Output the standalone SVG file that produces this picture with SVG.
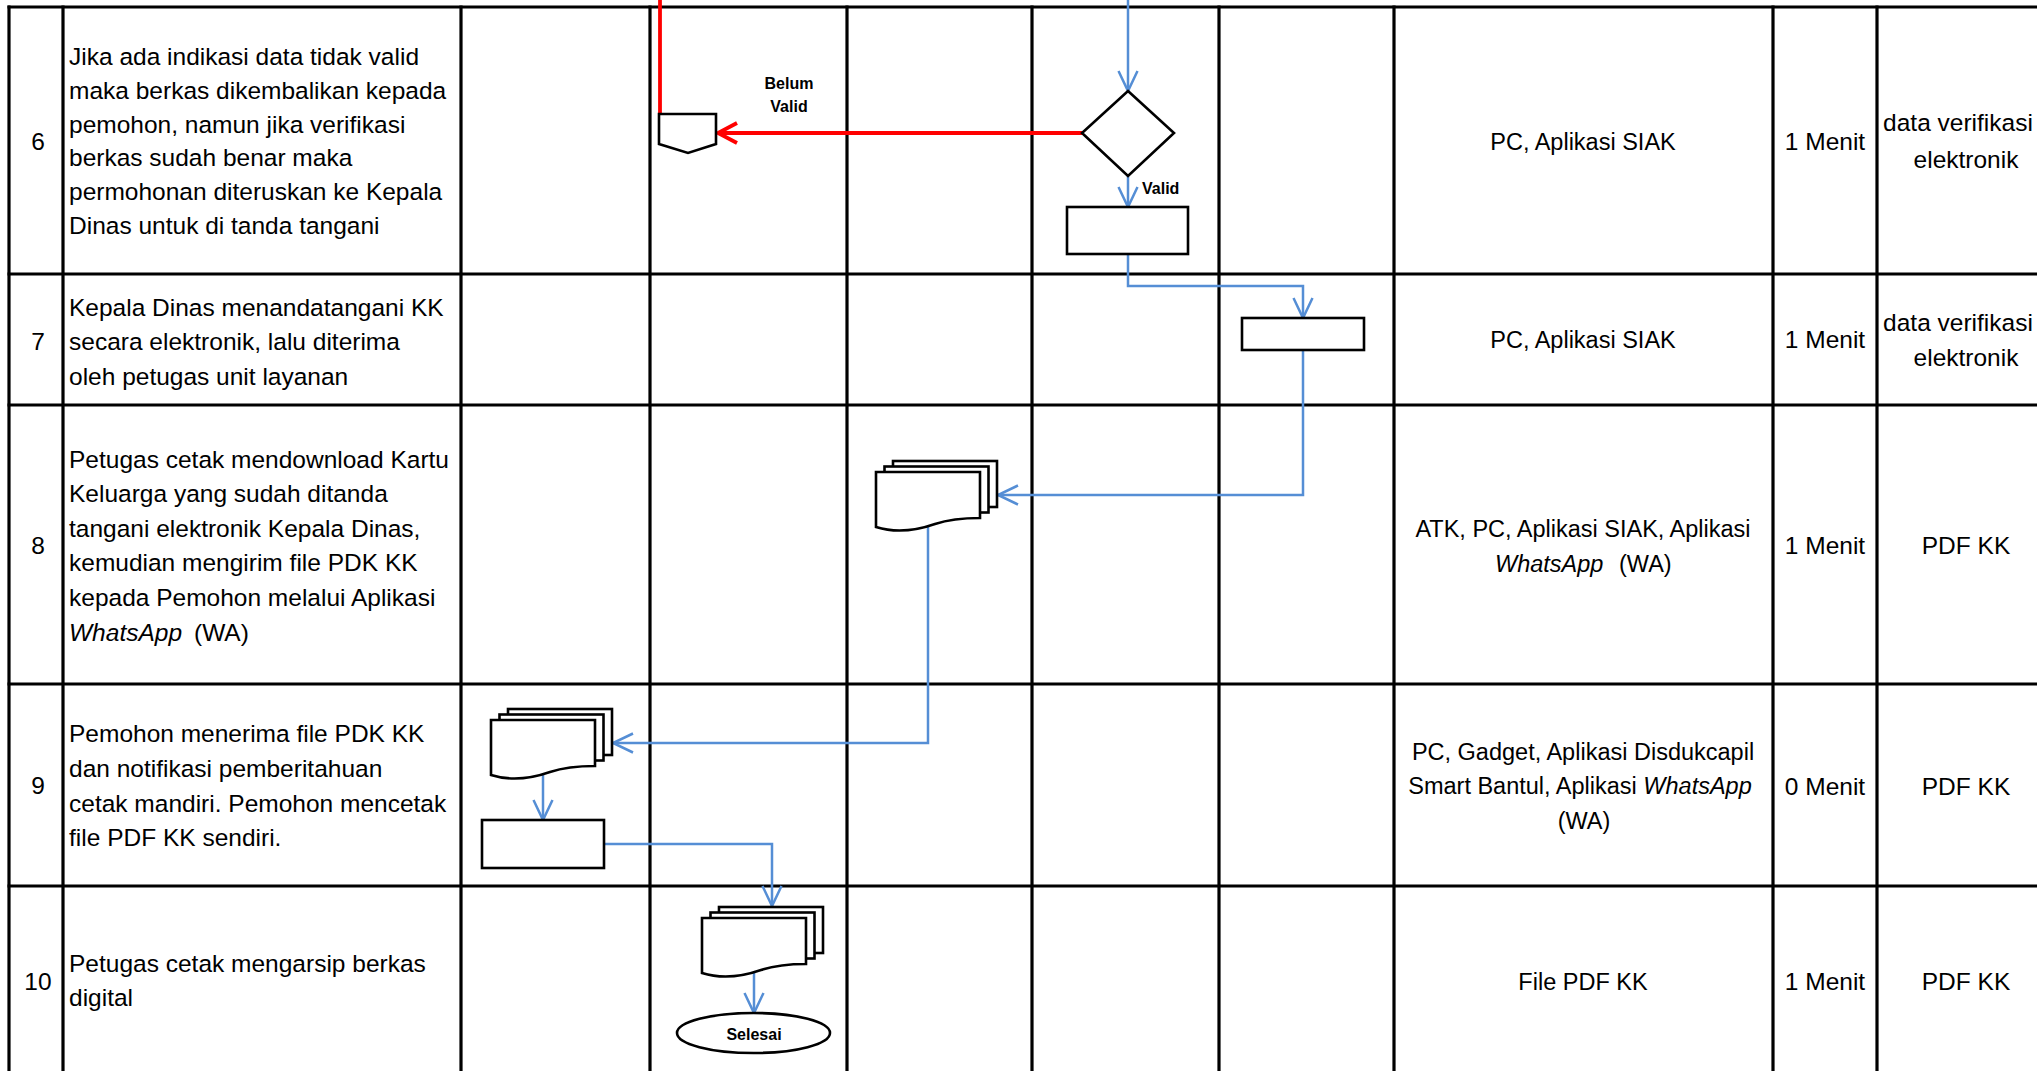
<svg xmlns="http://www.w3.org/2000/svg" width="2037" height="1071" viewBox="0 0 2037 1071">
<defs>
<style>
.grid{stroke:#000;stroke-width:3.2;fill:none}
.shape{stroke:#000;stroke-width:2.6;fill:#fff}
.t{font-family:"Liberation Sans",Arial,sans-serif;font-size:24.5px;fill:#000}
.e{font-size:23.5px}
.c{text-anchor:middle}
.i{font-style:italic}
.b{font-family:"Liberation Sans",Arial,sans-serif;font-size:16px;font-weight:bold;fill:#000}
.flow{stroke:#558ED5;stroke-width:2.5;fill:none}
.no{stroke:#FF0000;stroke-width:3.8;fill:none}
</style>
<marker id="ab" markerUnits="userSpaceOnUse" markerWidth="26" markerHeight="26" viewBox="-23 -13 26 26" refX="0" refY="0" orient="auto">
<path d="M-20,-9.5 L0,0 L-20,9.5" fill="none" stroke="#558ED5" stroke-width="2.5"/>
</marker>
<marker id="ar" markerUnits="userSpaceOnUse" markerWidth="28" markerHeight="28" viewBox="-24 -14 28 28" refX="0" refY="0" orient="auto">
<path d="M-19,-10 L0,0 L-19,10" fill="none" stroke="#FF0000" stroke-width="3.8"/>
</marker>
<g id="mdoc">
<rect x="17" y="-11" width="104" height="46"/>
<rect x="8.5" y="-5.5" width="104" height="46"/>
<path d="M0,0 H104 V46 C89,46 74,47 59,52 C39,59 19,61 0,55 Z"/>
</g>
</defs>
<rect width="2037" height="1071" fill="#fff"/>

<g id="table" class="grid">
<line x1="7.5" y1="7" x2="2037" y2="7"/>
<line x1="7.5" y1="274" x2="2037" y2="274"/>
<line x1="7.5" y1="405" x2="2037" y2="405"/>
<line x1="7.5" y1="684" x2="2037" y2="684"/>
<line x1="7.5" y1="886" x2="2037" y2="886"/>
<line x1="9" y1="5.5" x2="9" y2="1071"/>
<line x1="63" y1="5.5" x2="63" y2="1071"/>
<line x1="461" y1="5.5" x2="461" y2="1071"/>
<line x1="650" y1="5.5" x2="650" y2="1071"/>
<line x1="847" y1="5.5" x2="847" y2="1071"/>
<line x1="1032" y1="5.5" x2="1032" y2="1071"/>
<line x1="1219" y1="5.5" x2="1219" y2="1071"/>
<line x1="1394" y1="5.5" x2="1394" y2="1071"/>
<line x1="1773" y1="5.5" x2="1773" y2="1071"/>
<line x1="1877" y1="5.5" x2="1877" y2="1071"/>
</g>

<g id="row6-text" class="t">
<text x="38" y="150" class="c">6</text>
<text x="69" y="65">Jika ada indikasi data tidak valid</text>
<text x="69" y="99">maka berkas dikembalikan kepada</text>
<text x="69" y="133">pemohon, namun jika verifikasi</text>
<text x="69" y="166">berkas sudah benar maka</text>
<text x="69" y="200">permohonan diteruskan ke Kepala</text>
<text x="69" y="234">Dinas untuk di tanda tangani</text>
<text x="1583" y="150" class="c e">PC, Aplikasi SIAK</text>
<text x="1825" y="150" class="c">1 Menit</text>
<text x="1958" y="131" class="c">data verifikasi</text>
<text x="1966" y="168" class="c">elektronik</text>
</g>
<g id="row7-text" class="t">
<text x="38" y="350" class="c">7</text>
<text x="69" y="316">Kepala Dinas menandatangani KK</text>
<text x="69" y="350">secara elektronik, lalu diterima</text>
<text x="69" y="385">oleh petugas unit layanan</text>
<text x="1583" y="348" class="c e">PC, Aplikasi SIAK</text>
<text x="1825" y="348" class="c">1 Menit</text>
<text x="1958" y="331" class="c">data verifikasi</text>
<text x="1966" y="366" class="c">elektronik</text>
</g>
<g id="row8-text" class="t">
<text x="38" y="554" class="c">8</text>
<text x="69" y="468">Petugas cetak mendownload Kartu</text>
<text x="69" y="502">Keluarga yang sudah ditanda</text>
<text x="69" y="537">tangani elektronik Kepala Dinas,</text>
<text x="69" y="571">kemudian mengirim file PDK KK</text>
<text x="69" y="606">kepada Pemohon melalui Aplikasi</text>
<text x="69" y="641"><tspan class="i">WhatsApp</tspan><tspan x="194">(WA)</tspan></text>
<text x="1583" y="537" class="c e">ATK, PC, Aplikasi SIAK, Aplikasi</text>
<text x="1495" y="572" class="e"><tspan class="i">WhatsApp</tspan><tspan x="1619">(WA)</tspan></text>
<text x="1825" y="554" class="c">1 Menit</text>
<text x="1966" y="554" class="c">PDF KK</text>
</g>
<g id="row9-text" class="t">
<text x="38" y="794" class="c">9</text>
<text x="69" y="742">Pemohon menerima file PDK KK</text>
<text x="69" y="777">dan notifikasi pemberitahuan</text>
<text x="69" y="812">cetak mandiri. Pemohon mencetak</text>
<text x="69" y="846">file PDF KK sendiri.</text>
<text x="1583" y="760" class="c e">PC, Gadget, Aplikasi Disdukcapil</text>
<text x="1580" y="794" class="c e">Smart Bantul, Aplikasi <tspan class="i">WhatsApp</tspan></text>
<text x="1584" y="829" class="c e">(WA)</text>
<text x="1825" y="795" class="c">0 Menit</text>
<text x="1966" y="795" class="c">PDF KK</text>
</g>
<g id="row10-text" class="t">
<text x="38" y="990" class="c">10</text>
<text x="69" y="972">Petugas cetak mengarsip berkas</text>
<text x="69" y="1006">digital</text>
<text x="1583" y="990" class="c e">File PDF KK</text>
<text x="1825" y="990" class="c">1 Menit</text>
<text x="1966" y="990" class="c">PDF KK</text>
</g>

<g id="connectors">
<path class="no" d="M660,0 V114"/>
<path class="no" d="M1082,133 H718" marker-end="url(#ar)"/>
<path class="flow" d="M1128,0 V91" marker-end="url(#ab)"/>
<path class="flow" d="M1128,176 V207" marker-end="url(#ab)"/>
<path class="flow" d="M1128,254 V286 H1303 V318" marker-end="url(#ab)"/>
<path class="flow" d="M1303,350 V495 H998" marker-end="url(#ab)"/>
<path class="flow" d="M928,526 V743 H613" marker-end="url(#ab)"/>
<path class="flow" d="M543,774 V820" marker-end="url(#ab)"/>
<path class="flow" d="M604,844 H772 V906" marker-end="url(#ab)"/>
<path class="flow" d="M754,972 V1013" marker-end="url(#ab)"/>
</g>

<g id="offpage" class="shape"><path d="M659,114 H716 V144 L688,153 L659,144 Z"/></g>
<g id="decision" class="shape"><path d="M1128,91 L1174,133 L1128,176 L1082,133 Z"/></g>
<g id="proc6" class="shape"><rect x="1067" y="207" width="121" height="47"/></g>
<g id="proc7" class="shape"><rect x="1242" y="318" width="122" height="32"/></g>
<g id="doc8" class="shape"><use href="#mdoc" transform="translate(876,472)"/></g>
<g id="doc9" class="shape"><use href="#mdoc" transform="translate(491,720)"/></g>
<g id="proc9" class="shape"><rect x="482" y="820" width="122" height="48"/></g>
<g id="doc10" class="shape"><use href="#mdoc" transform="translate(702,918)"/></g>
<g id="end"><ellipse class="shape" cx="753.5" cy="1033" rx="76.5" ry="20"/><text class="b" x="754" y="1040" text-anchor="middle">Selesai</text></g>

<g id="labels" class="b">
<text x="789" y="89" text-anchor="middle">Belum</text>
<text x="789" y="112" text-anchor="middle">Valid</text>
<text x="1142" y="194">Valid</text>
</g>
</svg>
